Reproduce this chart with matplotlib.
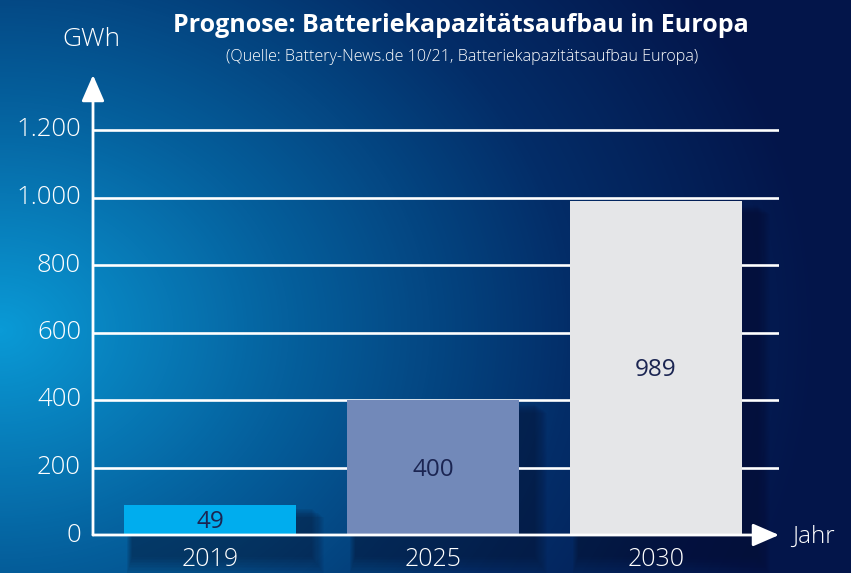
import numpy as np
import matplotlib.pyplot as plt
from matplotlib.patches import Rectangle
from matplotlib.colors import LinearSegmentedColormap

# data
years = ['2019', '2025', '2030']
bar_heights = [90, 400, 989]      # drawn heights (2019 bar is drawn taller than its value)
bar_labels = ['49', '400', '989']
bar_colors = ['#00adee', '#7289b9', '#e5e6e8']
yticks = [0, 200, 400, 600, 800, 1000, 1200]
ytick_labels = ['0', '200', '400', '600', '800', '1.000', '1.200']

title = 'Prognose: Batteriekapazitätsaufbau in Europa'
subtitle = '(Quelle: Battery-News.de 10/21, Batteriekapazitätsaufbau Europa)'

plt.rcParams['font.family'] = ['Open Sans', 'DejaVu Sans']

W, H = 851, 573
fig = plt.figure(figsize=(W / 100, H / 100), dpi=100)

# background gradient, brightest at the left middle
bg = fig.add_axes([0, 0, 1, 1])
yy, xx = np.mgrid[0:H, 0:W]
t = np.sqrt((xx / 820.0) ** 2 + ((yy - 330) / 650.0) ** 2)
t = np.clip(t, 0, 1)
cmap = LinearSegmentedColormap.from_list(
    'bg', [(0, '#0a9ad6'), (0.35, '#05609d'), (0.7, '#032d68'), (1, '#03154a')])
bg.imshow(t, cmap=cmap, vmin=0, vmax=1, aspect='auto', extent=[0, W, H, 0])
bg.set_xlim(0, W)
bg.set_ylim(H, 0)
bg.axis('off')

# main axes in pixel layout: x axis from 93 to 779, zero at y=535, top (arrow tip) at y=75
x0_px, x1_px, y0_px, ytop_px = 93, 779, 535, 75
ax = fig.add_axes([x0_px / W, 1 - y0_px / H, (x1_px - x0_px) / W, (y0_px - ytop_px) / H])
ax.set_facecolor('none')
px_per_unit = (535 - 130) / 1200
ymax = (y0_px - ytop_px) / px_per_unit
ax.set_ylim(0, ymax)
slot = 223.0
ax.set_xlim(-(210 - x0_px) / slot, 2 + (x1_px - 656) / slot)
for s in ax.spines.values():
    s.set_visible(False)
ax.set_xticks([])
ax.set_yticks([])

xpos = np.arange(len(years))
width = 172 / slot
dx = 1 / slot            # one pixel in x data units
dy = 1 / px_per_unit     # one pixel in y data units

# soft shadows behind the bars
for x, h in zip(xpos, bar_heights):
    for k in range(12):
        grow = k * 1.6
        ax.add_patch(Rectangle((x - width / 2 + 8 * dx - grow * dx * 0.3, -22 * dy - grow * dy),
                               width + 8 * dx + grow * dx, h + 18 * dy + grow * dy * 0.5,
                               facecolor='#06102a', edgecolor='none', alpha=0.045,
                               zorder=1, clip_on=False))

# gridlines
for v in yticks[1:]:
    ax.axhline(v, color='white', lw=1.9, zorder=2)

ax.bar(xpos, bar_heights, width=width, color=bar_colors, zorder=3)
for x, h, lab in zip(xpos, bar_heights, bar_labels):
    ax.text(x, h / 2 - 6, lab, ha='center', va='center', fontsize=17.5,
            color='#1b2552', zorder=4)

# axes with arrows
arrow = dict(arrowstyle='-|>,head_length=1.15,head_width=0.5', color='white', lw=2,
             shrinkA=0, shrinkB=0, mutation_scale=14)
ax.annotate('', xy=(0, 1), xytext=(0, 0), xycoords='axes fraction',
            arrowprops=arrow, zorder=5)
ax.annotate('', xy=(1, 0), xytext=(0, 0), xycoords='axes fraction',
            arrowprops=arrow, zorder=5)

# tick labels
for v, lab in zip(yticks, ytick_labels):
    ax.text(-(210 - 81) / slot, v, lab, ha='right', va='center', fontsize=18.5,
            fontweight='light', color='white', clip_on=False)
# year labels right at the bottom edge
for x, yr in zip(xpos, years):
    ax.text(x, -24 * dy, yr, ha='center', va='center', fontsize=18,
            fontweight='light', color='white', clip_on=False)

fig.text(792 / W, 1 - 537 / H, 'Jahr', ha='left', va='center', fontsize=17.5,
         fontweight='light', color='white')
fig.text(91 / W, 1 - 40 / H, 'GWh', ha='center', va='center', fontsize=19,
         fontweight='light', color='white')
fig.text(461 / W, 1 - 26 / H, title, ha='center', va='center', fontsize=18,
         fontweight='bold', color='white')
fig.text(462 / W, 1 - 57 / H, subtitle, ha='center', va='center', fontsize=11.6,
         fontweight='light', color='white')

fig.savefig('out.png', dpi=100)
